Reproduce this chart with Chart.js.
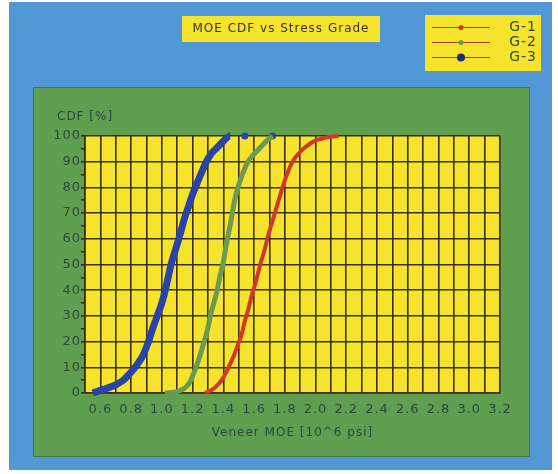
<!DOCTYPE html>
<html>
<head>
<meta charset="utf-8">
<title>MOE CDF vs Stress Grade</title>
<script src="https://cdn.jsdelivr.net/npm/chart.js@4.4.1/dist/chart.umd.min.js"></script>
<style>
  html, body { margin: 0; padding: 0; background: #fff; }
  #wrap { width: 558px; height: 474px; }
</style>
</head>
<body>
<div id="wrap"><canvas id="moe-cdf"></canvas></div>
<script>
// data: MOE (10^6 psi) vs cumulative %
const seriesNames = ['G-1', 'G-2', 'G-3'];

const g1Moe = [1.28, 1.32, 1.36, 1.40, 1.43, 1.465, 1.49, 1.52, 1.54, 1.56, 1.585, 1.61, 1.64, 1.67, 1.69, 1.715, 1.74, 1.765, 1.79, 1.82, 1.85, 1.89, 1.93, 1.97, 2.01, 2.06, 2.10, 2.15];
const g1Cdf = [0, 1, 3, 6, 9.5, 14, 18, 23, 28, 32, 38, 43, 50, 56, 61, 66, 71, 76, 81, 86, 90, 93.2, 95.5, 97.3, 98.5, 99.3, 99.7, 100];

const g2Moe = [1.02, 1.08, 1.12, 1.15, 1.18, 1.21, 1.24, 1.27, 1.29, 1.32, 1.36, 1.38, 1.40, 1.42, 1.45, 1.47, 1.50, 1.53, 1.56, 1.60, 1.64, 1.68, 1.72];
const g2Cdf = [0, 0.3, 1, 2, 4, 8, 13, 19, 23, 31, 40, 46, 51, 58, 67, 74, 81, 86, 90, 93, 95.5, 98, 100];

const g3Moe = [0.55, 0.60, 0.65, 0.70, 0.75, 0.79, 0.82, 0.85, 0.88, 0.91, 0.94, 0.97, 1.00, 1.03, 1.06, 1.09, 1.12, 1.145, 1.17, 1.195, 1.225, 1.26, 1.29, 1.32, 1.36, 1.40, 1.445, 1.54, 1.72];
const g3Cdf = [0, 1, 2, 3.2, 5, 7.5, 9.5, 12, 15, 19.5, 25, 30, 35, 42, 50, 56, 62, 67.5, 72, 76.5, 81, 86, 90, 93, 95.5, 98, 100, 100, 100];

const seriesColors = ['#d2372b', '#6b9a52', '#2a43a6'];
const gridColor = '#3a2e14';
const axisText = '#2a483f';
const fontFamily = "'DejaVu Sans', 'Liberation Sans', sans-serif";

function toPoints(xs, ys) {
    return xs.map((x, i) => ({ x: x, y: ys[i] }))
}

// backgrounds, title box, legend box and the y caption
const framePlugin = {
    id: 'frame',
    beforeDraw(chart) {
        const ctx = chart.ctx
        const area = chart.chartArea
        ctx.save()
        ctx.fillStyle = '#ffffff'
        ctx.fillRect(0, 0, chart.width, chart.height)
        ctx.fillStyle = '#5398d6'
        ctx.fillRect(9, 2, 543, 468)
        ctx.fillStyle = '#609f4f'
        ctx.fillRect(33, 87, 497, 370)
        ctx.strokeStyle = '#3f7a40'
        ctx.lineWidth = 1
        ctx.strokeRect(33.5, 87.5, 496, 369)
        ctx.fillStyle = '#f6e32c'
        ctx.fillRect(area.left, area.top, area.right - area.left, area.bottom - area.top)
        // title box
        ctx.fillRect(182, 16, 198, 26)
        // legend box
        ctx.fillRect(425, 15, 116, 56)
        ctx.restore()
        ctx.letterSpacing = '1px'
    },
    afterDraw(chart) {
        const ctx = chart.ctx
        ctx.save()
        ctx.letterSpacing = '1px'
        ctx.font = '12px ' + fontFamily
        ctx.textBaseline = 'middle'

        ctx.fillStyle = '#333333'
        ctx.textAlign = 'center'
        ctx.fillText('MOE CDF vs Stress Grade', 281, 29)

        ctx.fillStyle = axisText
        ctx.textAlign = 'left'
        ctx.fillText('CDF [%]', 57, 117)

        // legend: line with a marker, label on the right
        const rows = [27, 42, 57]
        const radii = [2.5, 2.5, 4]
        chart.data.datasets.forEach((ds, i) => {
            const y = rows[i]
            ctx.strokeStyle = '#9a4526'
            ctx.lineWidth = 1.2
            ctx.beginPath()
            ctx.moveTo(432, y + 0.5)
            ctx.lineTo(490, y + 0.5)
            ctx.stroke()
            ctx.fillStyle = i === 2 ? '#1d2f6e' : seriesColors[i]
            ctx.beginPath()
            ctx.arc(461, y + 0.5, radii[i], 0, Math.PI * 2)
            ctx.fill()
            ctx.fillStyle = axisText
            ctx.textAlign = 'right'
            ctx.font = '14px ' + fontFamily
            ctx.fillText(ds.label, 537, y)
        })
        ctx.restore()
    }
}

const ctx = document.getElementById('moe-cdf').getContext('2d')
const lastBlue = g3Moe.length - 3

const chart = new Chart(ctx, {
    type: 'line',
    data: {
        datasets: [
            {
                label: seriesNames[0],
                data: toPoints(g1Moe, g1Cdf),
                borderColor: seriesColors[0],
                backgroundColor: seriesColors[0],
                borderWidth: 4,
                pointRadius: 0,
                cubicInterpolationMode: 'monotone',
                clip: false
            },
            {
                label: seriesNames[1],
                data: toPoints(g2Moe, g2Cdf),
                borderColor: seriesColors[1],
                backgroundColor: seriesColors[1],
                borderWidth: 5,
                pointRadius: 0,
                cubicInterpolationMode: 'monotone',
                clip: false
            },
            {
                label: seriesNames[2],
                data: toPoints(g3Moe, g3Cdf),
                borderColor: seriesColors[2],
                backgroundColor: seriesColors[2],
                borderWidth: 7,
                pointRadius: c => c.dataIndex > lastBlue ? 3.5 : 0,
                pointBorderWidth: 0,
                cubicInterpolationMode: 'monotone',
                clip: false,
                segment: {
                    borderColor: c => c.p0DataIndex >= lastBlue ? 'rgba(0,0,0,0)' : seriesColors[2]
                }
            }
        ]
    },
    options: {
        responsive: true,
        maintainAspectRatio: false,
        animation: false,
        layout: {
            autoPadding: false,
            padding: { left: 33, top: 136, right: 58, bottom: 31 }
        },
        plugins: {
            legend: { display: false },
            tooltip: { enabled: false }
        },
        scales: {
            x: {
                type: 'linear',
                min: 0.5,
                max: 3.2,
                ticks: {
                    stepSize: 0.1,
                    maxTicksLimit: 100,
                    autoSkip: false,
                    maxRotation: 0,
                    padding: 9,
                    color: axisText,
                    font: { family: fontFamily, size: 13 },
                    callback: v => {
                        const k = Math.round(v * 10)
                        return k % 2 === 0 ? (k / 10).toFixed(1) : ''
                    }
                },
                grid: { color: gridColor, lineWidth: 1.6, drawTicks: false },
                border: { color: gridColor, width: 1.6 },
                title: {
                    display: true,
                    text: 'Veneer MOE [10^6 psi]',
                    color: axisText,
                    font: { family: fontFamily, size: 12 },
                    padding: { top: 0, bottom: 3 }
                },
                afterFit: s => { s.height = 50 }
            },
            y: {
                min: 0,
                max: 100,
                ticks: {
                    stepSize: 5,
                    autoSkip: false,
                    padding: 0,
                    color: axisText,
                    font: { family: fontFamily, size: 13 },
                    callback: v => v % 10 === 0 ? v : ''
                },
                grid: {
                    color: c => c.tick && c.tick.value % 10 === 0 ? gridColor : 'rgba(0,0,0,0)',
                    tickColor: gridColor,
                    tickLength: 4,
                    lineWidth: 1.6
                },
                border: { color: gridColor, width: 1.6 },
                afterFit: s => { s.width = 52 }
            }
        }
    },
    plugins: [framePlugin]
});
</script>
</body>
</html>
